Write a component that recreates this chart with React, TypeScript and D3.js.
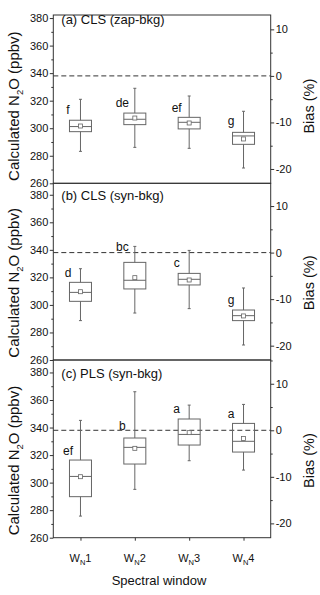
import React, { useEffect, useRef } from "react";
import * as d3 from "d3";

// spectral windows W_N1..W_N4
const windows = ["1", "2", "3", "4"];
const panelTitles = ["(a) CLS (zap-bkg)", "(b) CLS (syn-bkg)", "(c) PLS (syn-bkg)"];
const refN2O = 338; // reference concentration, bias = 0 %

// (a) CLS zap-bkg
const aLow = [283.2, 286.1, 285.4, 271.1];
const aQ1 = [297.5, 302.6, 299.5, 288.3];
const aMed = [301.2, 306.5, 304.3, 294.4];
const aQ3 = [305.8, 311.0, 307.9, 297.0];
const aHigh = [321.0, 329.0, 323.4, 312.3];
const aMean = [301.6, 307.4, 303.8, 292.2];
const aLetters = ["f", "de", "ef", "g"];
const aLetterAt = [310, 315.6, 312, 302];

// (b) CLS syn-bkg
const bLow = [288.6, 294.1, 297.3, 270.9];
const bQ1 = [302.6, 311.6, 314.5, 288.6];
const bMed = [309.1, 317.9, 318.6, 292.2];
const bQ3 = [316.4, 330.9, 322.9, 296.3];
const bHigh = [326.3, 342.5, 339.6, 312.3];
const bMean = [309.6, 319.8, 318.1, 292.0];
const bLetters = ["d", "bc", "c", "g"];
const bLetterAt = [320.5, 339.4, 327.8, 300.7];

// (c) PLS syn-bkg
const cLow = [275.7, 295.1, 315.9, 309.1];
const cQ1 = [289.8, 313.5, 327.3, 322.2];
const cMed = [304.5, 325.6, 335.0, 330.0];
const cQ3 = [316.4, 332.4, 346.2, 343.0];
const cHigh = [345.2, 366.0, 356.3, 356.8];
const cMean = [304.3, 324.9, 336.3, 332.1];
const cLetters = ["ef", "b", "a", "a"];
const cLetterAt = [320, 338.2, 350.3, 347.1];

const yTicks = [260, 280, 300, 320, 340, 360, 380];
const yMinor = [270, 290, 310, 330, 350, 370, 390];
const biasTicks = [-20, -10, 0, 10];
const biasMinor = [-15, -5, 5, 15];

const panels = [
  { title: panelTitles[0], low: aLow, q1: aQ1, med: aMed, q3: aQ3, high: aHigh, mean: aMean, letters: aLetters, letterAt: aLetterAt },
  { title: panelTitles[1], low: bLow, q1: bQ1, med: bMed, q3: bQ3, high: bHigh, mean: bMean, letters: bLetters, letterAt: bLetterAt },
  { title: panelTitles[2], low: cLow, q1: cQ1, med: cMed, q3: cQ3, high: cHigh, mean: cMean, letters: cLetters, letterAt: cLetterAt },
];

const font = "Arial, 'Liberation Sans', sans-serif";

export default function App() {
  const ref = useRef<SVGSVGElement>(null);

  useEffect(() => {
    document.body.style.margin = "0";
    const width = 320;
    const height = 595;
    const left = 53.3;
    const right = 270.7;
    const pxPerPpb = 1.377;
    const tops = [15, 183.3, 360];
    const bottoms = [183.3, 360, 537.7];

    const svg = d3.select(ref.current).attr("width", width).attr("height", height);
    svg.selectAll("*").remove();

    const x = d3.scalePoint<string>().domain(windows).range([left, right]).padding(0.5);
    const boxW = 22;

    panels.forEach((p, i) => {
      const top = tops[i];
      const bottom = bottoms[i];
      const y = d3.scaleLinear()
        .domain([260, 260 + (bottom - top) / pxPerPpb])
        .range([bottom, top]);
      const yb = d3.scaleLinear()
        .domain(y.domain().map(v => (v - refN2O) / refN2O * 100))
        .range([bottom, top]);
      const inY = (v: number) => v >= y.domain()[0] && v <= y.domain()[1] + 0.01;
      const inB = (v: number) => v >= yb.domain()[0] && v <= yb.domain()[1] + 0.01;

      const g = svg.append("g");

      // reference line
      g.append("line")
        .attr("x1", left).attr("x2", right)
        .attr("y1", y(refN2O)).attr("y2", y(refN2O))
        .attr("stroke", "#333").attr("stroke-width", 1)
        .attr("stroke-dasharray", "5,3");

      // left axis
      const la = g.append("g")
        .attr("transform", `translate(${left},0)`)
        .call(d3.axisLeft(y).tickValues(yTicks.filter(inY)).tickSize(3.5).tickPadding(1.5));
      la.append("g").call(d3.axisLeft(y).tickValues(yMinor.filter(inY)).tickSize(2).tickFormat(() => ""));

      // right axis (bias)
      const ra = g.append("g")
        .attr("transform", `translate(${right},0)`)
        .call(d3.axisRight(yb).tickValues(biasTicks.filter(inB)).tickSize(3.5).tickPadding(1.5).tickFormat(d => String(d)));
      ra.append("g").call(d3.axisRight(yb).tickValues(biasMinor.filter(inB)).tickSize(2).tickFormat(() => ""));

      [la, ra].forEach(a => {
        a.selectAll(".domain").remove();
        a.selectAll("line").attr("stroke", "#333");
        a.selectAll("text").attr("font-size", 11).attr("font-family", font).attr("fill", "#111");
      });

      // frame
      g.append("rect")
        .attr("x", left).attr("y", top)
        .attr("width", right - left).attr("height", bottom - top)
        .attr("fill", "none").attr("stroke", "#333").attr("stroke-width", 1);

      // boxes
      windows.forEach((w, j) => {
        const cx = x(w) as number;
        const col = "#666";
        g.append("line").attr("x1", cx).attr("x2", cx)
          .attr("y1", y(p.low[j])).attr("y2", y(p.q1[j])).attr("stroke", col);
        g.append("line").attr("x1", cx).attr("x2", cx)
          .attr("y1", y(p.q3[j])).attr("y2", y(p.high[j])).attr("stroke", col);
        [p.low[j], p.high[j]].forEach(v => {
          g.append("line").attr("x1", cx - 1.5).attr("x2", cx + 1.5)
            .attr("y1", y(v)).attr("y2", y(v)).attr("stroke", col);
        });
        g.append("rect")
          .attr("x", cx - boxW / 2).attr("y", y(p.q3[j]))
          .attr("width", boxW).attr("height", y(p.q1[j]) - y(p.q3[j]))
          .attr("fill", "none").attr("stroke", col).attr("stroke-width", 1);
        g.append("line").attr("x1", cx - boxW / 2).attr("x2", cx + boxW / 2)
          .attr("y1", y(p.med[j])).attr("y2", y(p.med[j])).attr("stroke", col);
        g.append("rect")
          .attr("x", cx - 2).attr("y", y(p.mean[j]) - 2)
          .attr("width", 4).attr("height", 4)
          .attr("fill", "#fff").attr("stroke", col).attr("stroke-width", 0.8);
        g.append("text")
          .attr("x", cx - 12.5).attr("y", y(p.letterAt[j]))
          .attr("text-anchor", "middle")
          .attr("font-size", 12).attr("font-family", font).attr("fill", "#111")
          .text(p.letters[j]);
      });

      // panel title
      g.append("text")
        .attr("x", left + 8).attr("y", y(376))
        .attr("font-size", 13).attr("font-family", font).attr("fill", "#111")
        .text(p.title);

      // left axis title
      const lt = g.append("text")
        .attr("transform", `translate(18.5,${y(316)}) rotate(-90)`)
        .attr("text-anchor", "middle")
        .attr("font-size", 15).attr("font-family", font).attr("fill", "#111");
      lt.append("tspan").text("Calculated N");
      lt.append("tspan").attr("font-size", 9.5).attr("dy", 4).text("2");
      lt.append("tspan").attr("dy", -4).text("O (ppbv)");

      // right axis title
      g.append("text")
        .attr("transform", `translate(313.5,${y(316)}) rotate(-90)`)
        .attr("text-anchor", "middle")
        .attr("font-size", 14.5).attr("font-family", font).attr("fill", "#111")
        .text("Bias (%)");

      // x axis on the bottom panel
      if (i === panels.length - 1) {
        const xa = g.append("g")
          .attr("transform", `translate(0,${bottom})`)
          .call(d3.axisBottom(x).tickSize(3).tickFormat(() => ""));
        xa.selectAll(".domain").remove();
        xa.selectAll("line").attr("stroke", "#333");
        windows.forEach(w => {
          const t = g.append("text")
            .attr("x", x(w) as number).attr("y", bottom + 24)
            .attr("text-anchor", "middle")
            .attr("font-size", 11).attr("font-family", font).attr("fill", "#111");
          t.append("tspan").text("W");
          t.append("tspan").attr("font-size", 7.5).attr("dy", 3).text("N");
          t.append("tspan").attr("dy", -3).text(w);
        });
        g.append("text")
          .attr("x", (left + right) / 2 - 3).attr("y", bottom + 47)
          .attr("text-anchor", "middle")
          .attr("font-size", 13).attr("font-family", font).attr("fill", "#111")
          .text("Spectral window");
      }
    });
  }, []);

  return (
    <div style={{ width: 320, height: 595, background: "#fff" }}>
      <svg ref={ref} style={{ display: "block" }} />
    </div>
  );
}
